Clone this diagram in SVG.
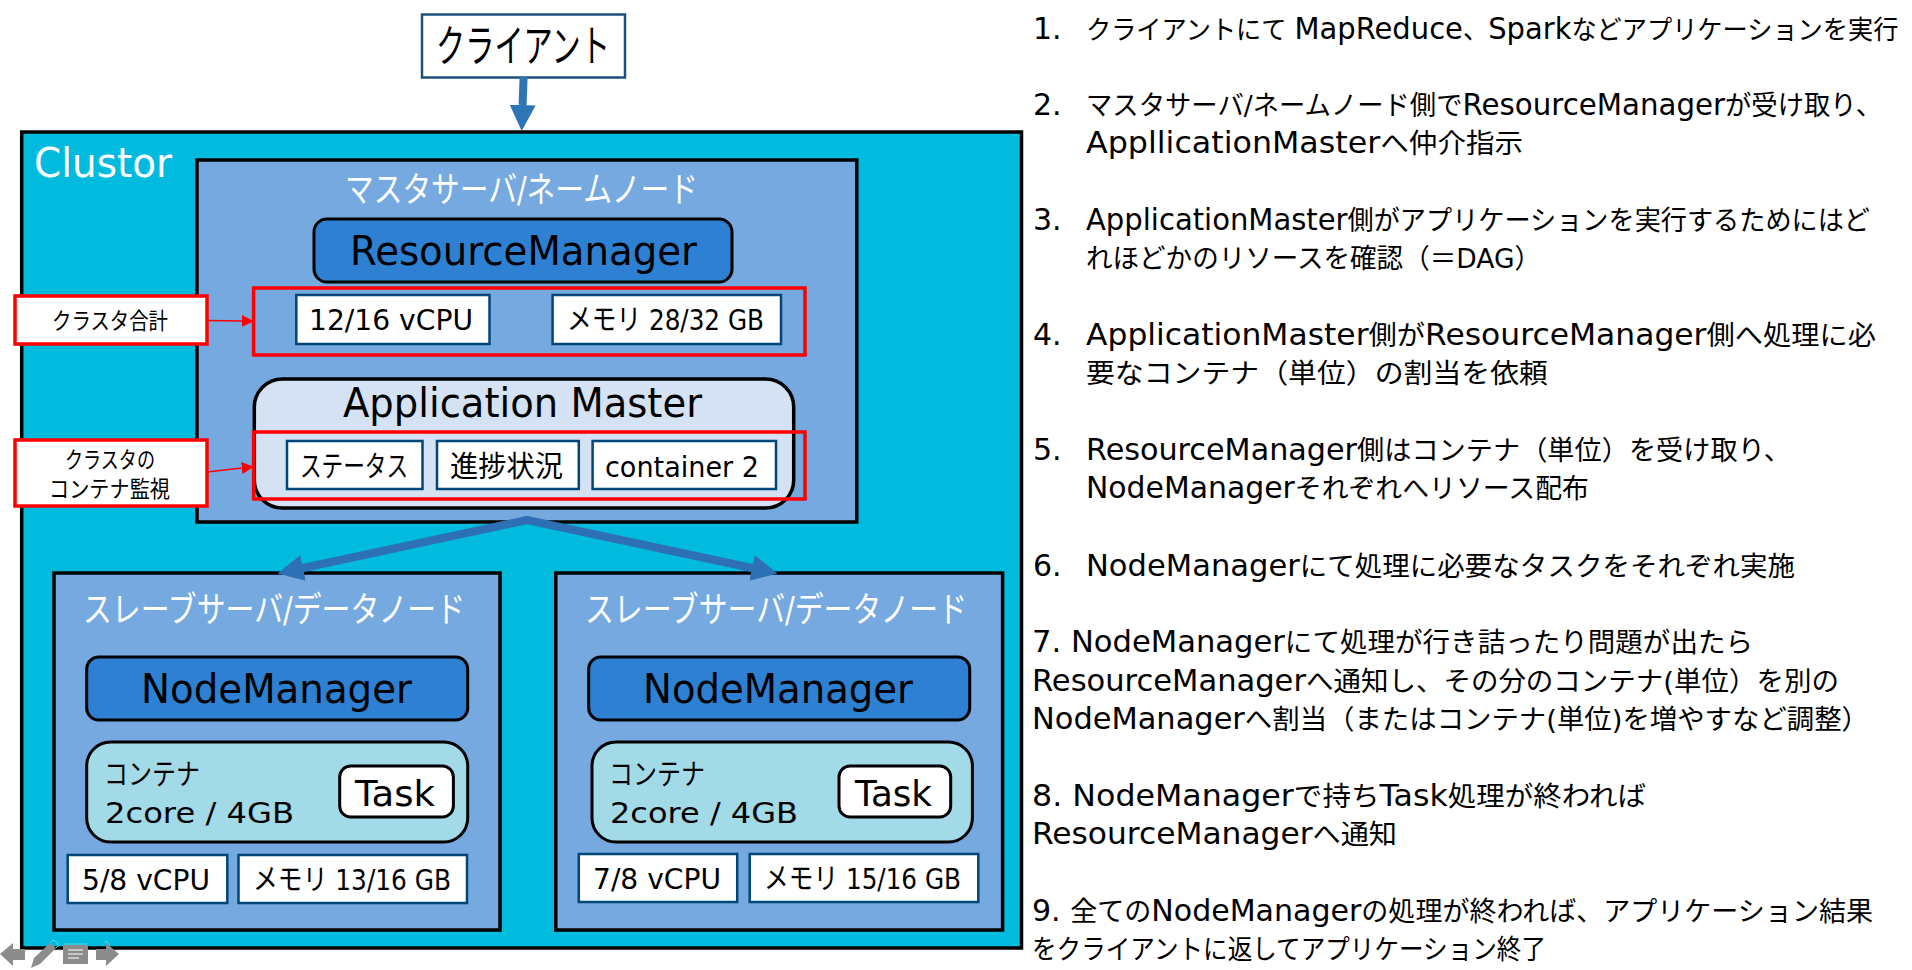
<svg xmlns="http://www.w3.org/2000/svg" width="1912" height="970" viewBox="0 0 1912 970">
<style>
text{font-family:"DejaVu Sans","Noto Sans CJK JP",sans-serif;fill:#000}
.w{fill:#fff}
.box{fill:#75a9df;stroke:#000;stroke-width:3.5}
.mgr{fill:#2d80d2;stroke:#000;stroke-width:3}
.val{fill:#fff;stroke:#004678;stroke-width:2.5}
.red{fill:none;stroke:#f00;stroke-width:3.5}
.lbl{fill:#fff;stroke:#f00;stroke-width:3.5}
.cont{fill:#a2dbe7;stroke:#000;stroke-width:3}
.task{fill:#fff;stroke:#000;stroke-width:3}
.f44{font-size:44px}.f40{font-size:40px}.f36{font-size:36px}.f35{font-size:35px}.f29{font-size:29px}.f27{font-size:27px}.f23{font-size:23px}
.l{font-size:30px}
.ic{fill:#8c8c8c}
</style>
<defs>
<marker id="blue" markerUnits="userSpaceOnUse" markerWidth="27" markerHeight="28" refX="0" refY="14" orient="auto"><path d="M0,1L26,14L0,27z" fill="#2e75b6"/></marker>
<marker id="blue2" markerUnits="userSpaceOnUse" markerWidth="27" markerHeight="28" refX="0" refY="14" orient="auto"><path d="M0,1L26,14L0,27z" fill="#2e70b5"/></marker>
<marker id="redh" markerUnits="userSpaceOnUse" markerWidth="13" markerHeight="12" refX="0" refY="6" orient="auto"><path d="M0,0L12,6L0,12z" fill="#f00"/></marker>
</defs>
<g id="cluster"><rect x="21.700" y="132" width="999.800" height="816" fill="#00bbde" stroke="#000" stroke-width="3.500"/><text class="f40 w" x="34" y="177" textLength="138" lengthAdjust="spacingAndGlyphs">Clustor</text></g>
<g id="client"><rect x="422" y="14.500" width="203" height="63" fill="#fff" stroke="#1c4f7c" stroke-width="2.500"/><text class="f44" x="436" y="62" textLength="174" lengthAdjust="spacingAndGlyphs">クライアント</text></g>
<g id="master"><rect class="box" x="197" y="160" width="659.800" height="362"/><text class="f35 w" x="345" y="202" textLength="353" lengthAdjust="spacingAndGlyphs">マスタサーバ/ネームノード</text></g>
<g id="resource-manager"><rect class="mgr" x="314" y="219" width="418" height="63" rx="13"/><text class="f40" x="350" y="265" textLength="347" lengthAdjust="spacingAndGlyphs">ResourceManager</text></g>
<g id="vcpu-total"><rect class="val" x="296.300" y="295" width="193.200" height="49"/><text class="f29" x="309" y="330" textLength="164" lengthAdjust="spacingAndGlyphs">12/16 vCPU</text></g>
<g id="mem-total"><rect class="val" x="552.600" y="295" width="228.400" height="49"/><text class="f29" x="567" y="330" textLength="197" lengthAdjust="spacingAndGlyphs">メモリ 28/32 GB</text></g>
<g id="app-master"><rect x="254.300" y="379" width="539.400" height="129" rx="28" fill="#d5e2f3" stroke="#000" stroke-width="3.500"/><text class="f40" x="343" y="417" textLength="359" lengthAdjust="spacingAndGlyphs">Application Master</text></g>
<g id="status"><rect class="val" x="287" y="441" width="135.500" height="48"/><text class="f29" x="300" y="477" textLength="108" lengthAdjust="spacingAndGlyphs">ステータス</text></g>
<g id="progress"><rect class="val" x="437" y="441" width="141.800" height="48"/><text class="f29" x="450" y="477" textLength="113" lengthAdjust="spacingAndGlyphs">進捗状況</text></g>
<g id="container2"><rect class="val" x="592.600" y="441" width="183.400" height="48"/><text class="f29" x="605" y="477" textLength="154" lengthAdjust="spacingAndGlyphs">container 2</text></g>
<g id="red-total"><rect class="red" x="253.600" y="288" width="551.400" height="67"/></g>
<g id="red-monitor"><rect class="red" x="253.600" y="432" width="551.400" height="67"/></g>
<g id="label-total"><rect class="lbl" x="15" y="296" width="192" height="48"/><text class="f23" x="52" y="329" textLength="116" lengthAdjust="spacingAndGlyphs">クラスタ合計</text></g>
<g id="label-monitor"><rect class="lbl" x="15" y="440" width="192" height="66"/><text class="f23" x="65" y="468" textLength="90" lengthAdjust="spacingAndGlyphs">クラスタの</text><text class="f23" x="49" y="497" textLength="121" lengthAdjust="spacingAndGlyphs">コンテナ監視</text></g>
<g id="slave1"><rect class="box" x="54" y="573" width="446" height="357"/><text class="f35 w" x="83" y="622" textLength="382" lengthAdjust="spacingAndGlyphs">スレーブサーバ/データノード</text></g>
<g id="node-manager1"><rect class="mgr" x="86.700" y="657" width="381" height="63" rx="12"/><text class="f40" x="141" y="703" textLength="271" lengthAdjust="spacingAndGlyphs">NodeManager</text></g>
<g id="container-a"><rect class="cont" x="86.700" y="742" width="381" height="100" rx="24"/><text class="f29" x="104" y="785" textLength="96" lengthAdjust="spacingAndGlyphs">コンテナ</text><text class="f29" x="105" y="823" textLength="189" lengthAdjust="spacingAndGlyphs">2core / 4GB</text></g>
<g id="task-a"><rect class="task" x="339.700" y="766" width="113.700" height="51" rx="11"/><text class="f36" x="355" y="806" textLength="80" lengthAdjust="spacingAndGlyphs">Task</text></g>
<g id="vcpu-a"><rect class="val" x="67.700" y="855" width="159.600" height="48"/><text class="f29" x="82" y="890" textLength="128" lengthAdjust="spacingAndGlyphs">5/8 vCPU</text></g>
<g id="mem-a"><rect class="val" x="238.500" y="855" width="228.500" height="48"/><text class="f29" x="253" y="890" textLength="198" lengthAdjust="spacingAndGlyphs">メモリ 13/16 GB</text></g>
<g id="slave2"><rect class="box" x="555.800" y="573" width="446.800" height="357"/><text class="f35 w" x="585" y="622" textLength="382" lengthAdjust="spacingAndGlyphs">スレーブサーバ/データノード</text></g>
<g id="node-manager2"><rect class="mgr" x="588.700" y="657" width="381" height="63" rx="12"/><text class="f40" x="643" y="703" textLength="270" lengthAdjust="spacingAndGlyphs">NodeManager</text></g>
<g id="container-b"><rect class="cont" x="592" y="742" width="380.400" height="100" rx="24"/><text class="f29" x="609" y="785" textLength="96" lengthAdjust="spacingAndGlyphs">コンテナ</text><text class="f29" x="610" y="823" textLength="188" lengthAdjust="spacingAndGlyphs">2core / 4GB</text></g>
<g id="task-b"><rect class="task" x="839" y="766" width="111.700" height="51" rx="11"/><text class="f36" x="855" y="806" textLength="77" lengthAdjust="spacingAndGlyphs">Task</text></g>
<g id="vcpu-b"><rect class="val" x="578.800" y="854" width="158.400" height="48"/><text class="f29" x="593" y="889" textLength="128" lengthAdjust="spacingAndGlyphs">7/8 vCPU</text></g>
<g id="mem-b"><rect class="val" x="749.700" y="854" width="228.600" height="48"/><text class="f29" x="764" y="889" textLength="197" lengthAdjust="spacingAndGlyphs">メモリ 15/16 GB</text></g>
<g id="connectors" fill="none">
<line x1="523.600" y1="77" x2="522.600" y2="105" stroke="#2e75b6" stroke-width="8" marker-end="url(#blue)"/>
<path d="M527,520L303,568" stroke="#2e70b5" stroke-width="8" stroke-linecap="round" marker-end="url(#blue2)"/>
<path d="M527,520L752,568" stroke="#2e70b5" stroke-width="8" stroke-linecap="round" marker-end="url(#blue2)"/>
<line x1="207" y1="320.500" x2="241.800" y2="321" stroke="#f00" stroke-width="1.500" marker-end="url(#redh)"/>
<line x1="207" y1="472" x2="241.800" y2="468" stroke="#f00" stroke-width="1.500" marker-end="url(#redh)"/>
</g>
<g id="steps">
<text class="f27 l" x="1033" y="39">1.</text><text style="font-size:26.500px" transform="translate(1086,39) scale(.951,1)">クライアントにて <tspan style="font-size:30.500px">MapReduce</tspan>、<tspan style="font-size:30.500px">Spark</tspan>などアプリケーションを実行</text>
<text class="f27 l" x="1033" y="115">2.</text><text class="f27" x="1086" y="115" textLength="796" lengthAdjust="spacingAndGlyphs">マスタサーバ/ネームノード側で<tspan class="l">ResourceManager</tspan>が受け取り、</text>
<text class="f27" x="1086" y="153" textLength="437" lengthAdjust="spacingAndGlyphs"><tspan class="l">AppllicationMaster</tspan>へ仲介指示</text>
<text class="f27 l" x="1033" y="230">3.</text><text class="f27" x="1086" y="230" textLength="784" lengthAdjust="spacingAndGlyphs"><tspan class="l">ApplicationMaster</tspan>側がアプリケーションを実行するためにはど</text>
<text class="f27" x="1086" y="268" textLength="455" lengthAdjust="spacingAndGlyphs">れほどかのリソースを確認（＝DAG）</text>
<text class="f27 l" x="1033" y="345">4.</text><text class="f27" x="1086" y="345" textLength="790" lengthAdjust="spacingAndGlyphs"><tspan class="l">ApplicationMaster</tspan>側が<tspan class="l">ResourceManager</tspan>側へ処理に必</text>
<text class="f27" x="1086" y="383" textLength="462" lengthAdjust="spacingAndGlyphs">要なコンテナ（単位）の割当を依頼</text>
<text class="f27 l" x="1033" y="460">5.</text><text class="f27" x="1086" y="460" textLength="705" lengthAdjust="spacingAndGlyphs"><tspan class="l">ResourceManager</tspan>側はコンテナ（単位）を受け取り、</text>
<text class="f27" x="1086" y="498" textLength="503" lengthAdjust="spacingAndGlyphs"><tspan class="l">NodeManager</tspan>それぞれへリソース配布</text>
<text class="f27 l" x="1033" y="576">6.</text><text class="f27" x="1086" y="576" textLength="709" lengthAdjust="spacingAndGlyphs"><tspan class="l">NodeManager</tspan>にて処理に必要なタスクをそれぞれ実施</text>
<text class="f27" x="1032" y="652" textLength="721" lengthAdjust="spacingAndGlyphs"><tspan class="l">7. NodeManager</tspan>にて処理が行き詰ったり問題が出たら</text>
<text class="f27" x="1032" y="691" textLength="807" lengthAdjust="spacingAndGlyphs"><tspan class="l">ResourceManager</tspan>へ通知し、その分のコンテナ(単位）を別の</text>
<text class="f27" x="1032" y="729" textLength="837" lengthAdjust="spacingAndGlyphs"><tspan class="l">NodeManager</tspan>へ割当（またはコンテナ(単位)を増やすなど調整）</text>
<text class="f27" x="1032" y="806" textLength="614" lengthAdjust="spacingAndGlyphs"><tspan class="l">8. NodeManager</tspan>で持ち<tspan class="l">Task</tspan>処理が終われば</text>
<text class="f27" x="1032" y="844" textLength="365" lengthAdjust="spacingAndGlyphs"><tspan class="l">ResourceManager</tspan>へ通知</text>
<text class="f27" x="1032" y="921" textLength="841" lengthAdjust="spacingAndGlyphs"><tspan class="l">9. </tspan>全ての<tspan class="l">NodeManager</tspan>の処理が終われば、アプリケーション結果</text>
<text class="f27" x="1032" y="959" textLength="514" lengthAdjust="spacingAndGlyphs">をクライアントに返してアプリケーション終了</text>
</g>
<g id="controls">
<path class="ic" d="M0,954L13,943V949H25V960H13V966z"/>
<path class="ic" d="M31,968L34,958L50,943L56,948L40,964z"/>
<path d="M50,943L53,940L58,943L58,946L56,948" fill="none" stroke="#5fd8ea" stroke-width="1"/>
<rect class="ic" x="63" y="945" width="25" height="19"/>
<path d="M64,944H87" stroke="#5fd8ea" stroke-width="1"/>
<path d="M68,950H83M68,954H83M68,958H79" stroke="#fff" stroke-width="1.200" fill="none"/>
<path class="ic" d="M119,954L106,943V949H96V960H106V966z"/>
<path d="M105,943L106,941L110,945" fill="none" stroke="#5fd8ea" stroke-width="1"/>
</g>
</svg>
